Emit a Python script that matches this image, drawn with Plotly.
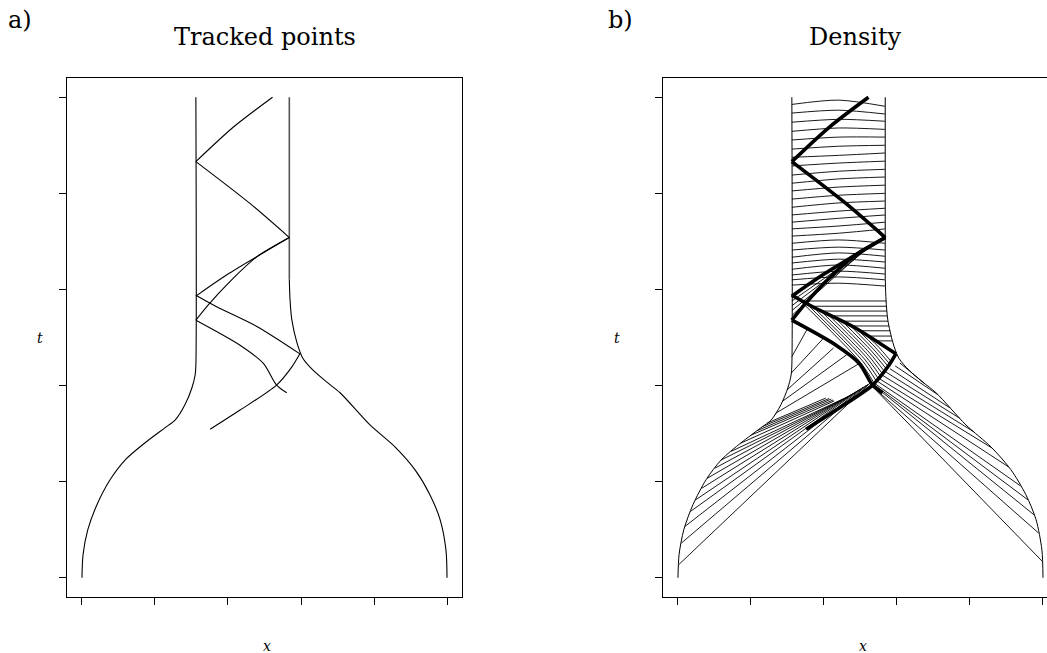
import numpy as np
import plotly.graph_objects as go

# ---------------- domain walls (x, t) ----------------
left_wall_x = [0.000, 0.003, 0.016, 0.041, 0.077, 0.118, 0.173, 0.227, 0.255, 0.282, 0.301, 0.310, 0.312, 0.312]
left_wall_t = [0.000, 0.048, 0.100, 0.152, 0.204, 0.245, 0.281, 0.312, 0.328, 0.360, 0.395, 0.422, 0.443, 1.000]
right_wall_x = [1.000, 0.997, 0.981, 0.953, 0.912, 0.858, 0.789, 0.707, 0.671, 0.633, 0.605, 0.589, 0.575, 0.570, 0.568]
right_wall_t = [0.000, 0.058, 0.121, 0.173, 0.225, 0.272, 0.318, 0.385, 0.407, 0.432, 0.457, 0.489, 0.536, 0.578, 0.620]
right_column_x = [0.568, 0.568]
right_column_t = [0.620, 1.000]

# ---------------- tracked points ----------------
track_a_x = [0.312, 0.415, 0.522]
track_a_t = [0.866, 0.938, 1.000]
track_b_x = [0.312, 0.460, 0.568]
track_b_t = [0.866, 0.779, 0.708]
track_c_x = [0.568, 0.396, 0.312]
track_c_t = [0.708, 0.630, 0.586]
track_d_x = [0.568, 0.479, 0.410, 0.346, 0.312]
track_d_t = [0.708, 0.668, 0.620, 0.568, 0.536]
track_e_x = [0.312, 0.369, 0.479, 0.597]
track_e_t = [0.588, 0.564, 0.523, 0.466]
track_f_x = [0.312, 0.433, 0.497, 0.533, 0.561]
track_f_t = [0.536, 0.484, 0.446, 0.401, 0.385]
track_g_x = [0.597, 0.575, 0.533, 0.433, 0.351]
track_g_t = [0.466, 0.439, 0.401, 0.349, 0.309]

# ---------------- density contours ----------------
# near-horizontal levels across the column: t at left wall, middle, right wall
column_mid_x = 0.44
upper_t_left = [0.985, 0.967, 0.948, 0.929, 0.911, 0.892, 0.875, 0.857, 0.838, 0.821, 0.805, 0.788, 0.771,
                0.755, 0.740, 0.726, 0.711, 0.696, 0.682, 0.667, 0.655, 0.642, 0.630, 0.620, 0.609]
upper_t_mid = [0.994, 0.973, 0.954, 0.936, 0.917, 0.898, 0.879, 0.863, 0.846, 0.830, 0.813, 0.796, 0.780,
               0.763, 0.748, 0.732, 0.717, 0.703, 0.688, 0.676, 0.663, 0.651, 0.638, 0.626, 0.613]
upper_t_right = [0.981, 0.965, 0.950, 0.933, 0.917, 0.900, 0.884, 0.867, 0.850, 0.834, 0.817, 0.800, 0.784,
                 0.769, 0.755, 0.740, 0.726, 0.696, 0.682, 0.669, 0.657, 0.644, 0.632, 0.620, 0.607]
# levels running from the track E front to the right wall
side_t = [0.576, 0.565, 0.555, 0.545, 0.534, 0.524, 0.514, 0.503, 0.493]
# levels in the wedge between tracks C and D
wedge_t_wall = [0.546, 0.556, 0.566, 0.576]
wedge_end_x = [0.520, 0.530, 0.540, 0.550]
wedge_end_t = [0.688, 0.692, 0.697, 0.702]
# lower-left fan: start level on left wall, end point
fan_left_t0 = [0.027, 0.072, 0.107, 0.138, 0.162, 0.186, 0.207, 0.228, 0.245, 0.263,
               0.280, 0.297, 0.306, 0.315, 0.322, 0.342, 0.367, 0.391, 0.426, 0.460]
fan_left_x1 = [0.526, 0.521, 0.515, 0.508, 0.500, 0.492, 0.484, 0.475, 0.466, 0.452,
               0.428, 0.425, 0.420, 0.414, 0.405, 0.499, 0.462, 0.426, 0.398, 0.353]
fan_left_t1 = [0.405, 0.403, 0.400, 0.397, 0.393, 0.389, 0.385, 0.381, 0.377, 0.372,
               0.368, 0.370, 0.372, 0.373, 0.374, 0.447, 0.464, 0.478, 0.498, 0.516]
# lower-right fan: start level on right wall, end point
fan_right_t0 = [0.034, 0.093, 0.131, 0.162, 0.191, 0.231, 0.270, 0.304, 0.332, 0.353, 0.381, 0.405]
fan_right_x1 = [0.529, 0.527, 0.532, 0.532, 0.534, 0.540, 0.548, 0.559, 0.570, 0.581, 0.595, 0.608]
fan_right_t1 = [0.401, 0.402, 0.403, 0.405, 0.407, 0.412, 0.416, 0.422, 0.428, 0.435, 0.441, 0.447]
# nested arcs between tracks E, F and G
arc_start_x = [0.33, 0.35, 0.37, 0.39, 0.41, 0.43, 0.45, 0.47, 0.49, 0.51]
arc_mid_x = [0.500, 0.505, 0.510, 0.515, 0.520, 0.525, 0.530, 0.535, 0.540, 0.545]
arc_mid_t = [0.448, 0.452, 0.456, 0.460, 0.464, 0.468, 0.472, 0.476, 0.480, 0.484]
arc_end_t = [0.405, 0.410, 0.415, 0.420, 0.425, 0.430, 0.435, 0.440, 0.445, 0.450]

tick_vals = [0.0, 0.2, 0.4, 0.6, 0.8, 1.0]

fig = go.Figure()


def add_paths(paths, panel, width, color="black", shape="linear"):
    xs, ys = [], []
    for px, pt in paths:
        xs += list(px) + [None]
        ys += list(pt) + [None]
    fig.add_trace(go.Scatter(
        x=xs, y=ys, mode="lines",
        line=dict(color=color, width=width, shape=shape, smoothing=0.8),
        xaxis="x" if panel == 1 else "x2", yaxis="y" if panel == 1 else "y2",
        showlegend=False, hoverinfo="skip", connectgaps=False))


tracks = [(track_a_x, track_a_t), (track_b_x, track_b_t), (track_c_x, track_c_t),
          (track_d_x, track_d_t), (track_e_x, track_e_t), (track_f_x, track_f_t),
          (track_g_x, track_g_t)]
walls = [(left_wall_x, left_wall_t), (right_wall_x, right_wall_t)]


def rev(a):
    return list(a)[::-1]


# contour geometry for the density panel
level_lines = []
for tl, tm, tr in zip(upper_t_left, upper_t_mid, upper_t_right):
    level_lines.append(([left_wall_x[-1], column_mid_x, right_column_x[0]], [tl, tm, tr]))

straight_lines = []
for ts in side_t:
    xs = np.interp(ts, rev(track_e_t), rev(track_e_x))
    xe = np.interp(ts, right_wall_t, right_wall_x) if ts < right_wall_t[-1] else right_column_x[0]
    straight_lines.append(([xs, xe], [ts, ts]))
for tw, xe, te in zip(wedge_t_wall, wedge_end_x, wedge_end_t):
    straight_lines.append(([left_wall_x[-1], xe], [tw, te]))
for t0, x1, t1 in zip(fan_left_t0, fan_left_x1, fan_left_t1):
    straight_lines.append(([np.interp(t0, left_wall_t, left_wall_x), x1], [t0, t1]))
for t0, x1, t1 in zip(fan_right_t0, fan_right_x1, fan_right_t1):
    straight_lines.append(([np.interp(t0, right_wall_t, right_wall_x), x1], [t0, t1]))

arcs = []
for xs, xm, tm, te in zip(arc_start_x, arc_mid_x, arc_mid_t, arc_end_t):
    ts = np.interp(xs, track_e_x, track_e_t)
    xe = np.interp(te, rev(track_g_t), rev(track_g_x))
    arcs.append(([xs, xm, xe], [ts, tm, te]))

# panel a: walls and tracked points
add_paths(walls, 1, 1.1, shape="spline")
add_paths([(right_column_x, right_column_t)], 1, 1.6, color="#555555")
add_paths(tracks, 1, 1.1, shape="spline")

# panel b: density contours with tracks overlaid
add_paths(level_lines, 2, 0.9, shape="spline")
add_paths(straight_lines, 2, 0.9)
add_paths(arcs, 2, 0.9, shape="spline")
add_paths(walls, 2, 1.0, shape="spline")
add_paths([(right_column_x, right_column_t)], 2, 1.4, color="#444444")
add_paths(tracks, 2, 3.6, shape="spline")

axis_common = dict(showline=True, linecolor="black", linewidth=1, ticks="outside",
                   ticklen=7, tickwidth=1, tickcolor="black", tickvals=tick_vals,
                   showticklabels=False, showgrid=False, zeroline=False)

y_dom = [(653 - 597) / 653, (653 - 78) / 653]
fig.update_layout(
    width=1047, height=653,
    margin=dict(l=0, r=0, t=0, b=0),
    paper_bgcolor="white", plot_bgcolor="white",
    xaxis=dict(domain=[67 / 1047, 462 / 1047], range=[-0.041, 1.041], anchor="y", mirror=True, **axis_common),
    yaxis=dict(domain=y_dom, range=[-0.04, 1.04], anchor="x", mirror=True, **axis_common),
    xaxis2=dict(domain=[663 / 1047, 1.0], range=[-0.041, 1.011], anchor="y2", mirror=True, **axis_common),
    yaxis2=dict(domain=y_dom, range=[-0.04, 1.04], anchor="x2", mirror=False, **axis_common),
)

serif = "DejaVu Serif"


def label(text, px, py, size, italic=False):
    fig.add_annotation(
        text=f"<i>{text}</i>" if italic else text,
        x=px / 1047, y=1 - py / 653, xref="paper", yref="paper",
        xanchor="center", yanchor="middle", showarrow=False,
        font=dict(family=serif, size=size, color="black"))


label("a)", 20, 20, 24)
label("b)", 620, 20, 24)
label("Tracked points", 265, 37, 24)
label("Density", 855, 37, 24)
label("x", 267, 646, 14, italic=True)
label("x", 863, 646, 14, italic=True)
label("t", 40, 338, 14, italic=True)
label("t", 617, 338, 14, italic=True)

fig.write_html("out.html")
